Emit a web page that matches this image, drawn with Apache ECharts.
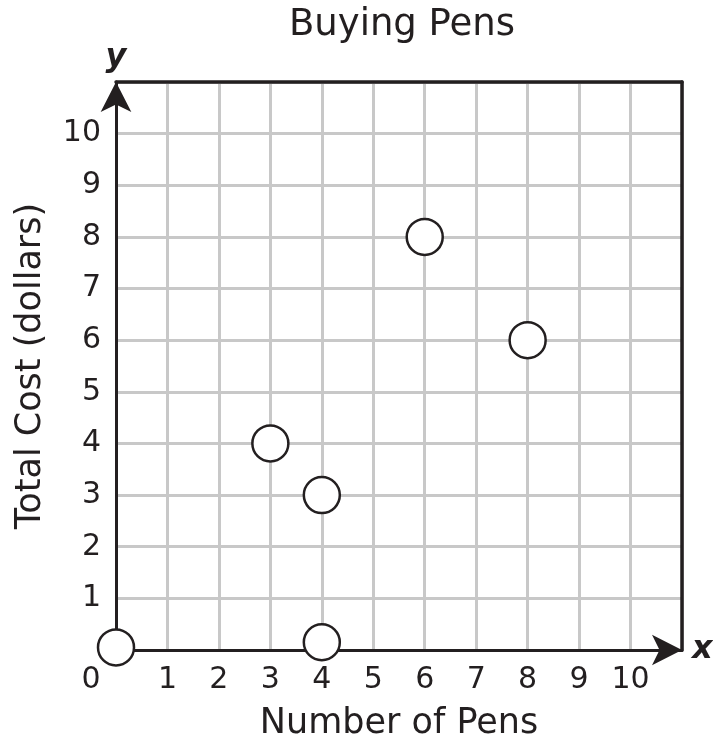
<!DOCTYPE html>
<html><head><meta charset="utf-8">
<script src="https://cdn.jsdelivr.net/npm/echarts@6/dist/echarts.min.js"></script>
<style>html,body{margin:0;padding:0;background:#fff}#c{width:713px;height:741px}</style>
</head><body><div id="c"></div>
<script>
var title = 'Buying Pens';
var xName = 'Number of Pens';
var yName = 'Total Cost (dollars)';
var penCounts = [0, 4, 3, 4, 6, 8];
var totalCosts = [0.05, 0.15, 4, 3, 8, 6];
var tickValues = [0, 1, 2, 3, 4, 5, 6, 7, 8, 9, 10];

var F = 'DejaVu Sans, Verdana, sans-serif';
var ink = '#231f20';
var chart = echarts.init(document.getElementById('c'));
var pts = penCounts.map(function (x, i) { return [x, totalCosts[i]]; });
function lbl(v, hideZero) {
  if (tickValues.indexOf(v) < 0) return '';
  if (v === 0) return hideZero ? '' : '{z|0}';
  return String(v);
}
var blank = { axisTick: { show: false }, axisLabel: { show: false }, splitLine: { show: false } };
function extra(o) { return Object.assign({ type: 'value', min: 0, max: 11 }, blank, o); }
chart.setOption({
  animation: false,
  title: { text: title, left: 397, top: 2, textAlign: 'center',
    textStyle: { fontFamily: F, fontSize: 37, fontWeight: 'normal', color: ink } },
  grid: { left: 116, right: 31, top: 82, bottom: 91, show: false, containLabel: false, outerBoundsMode: 'none' },
  xAxis: [{
    type: 'value', min: 0, max: 11, interval: 1,
    name: xName, nameLocation: 'middle', nameGap: 56,
    nameTextStyle: { fontFamily: F, fontSize: 35, color: ink },
    axisLine: { show: true, onZero: false, symbol: ['none', 'arrow'], symbolSize: [23, 30], lineStyle: { color: ink, width: 3 } },
    axisTick: { show: false },
    axisLabel: { margin: 15, fontFamily: F, fontSize: 30, color: ink,
      formatter: function (v) { return lbl(v, false); },
      rich: { z: { fontFamily: F, fontSize: 30, color: ink, padding: [0, 50, 0, 0] } } },
    splitLine: { show: true, lineStyle: { color: '#c8c8c8', width: 3 } },
    z: 3
  }, extra({
    position: 'bottom',
    name: 'x', nameLocation: 'end', nameGap: 10,
    nameTextStyle: { fontFamily: F, fontSize: 32, fontWeight: 'bold', fontStyle: 'italic', color: ink, verticalAlign: 'middle', padding: [52, 0, 0, 0] },
    axisLine: { show: false, onZero: false }
  }), extra({
    position: 'top',
    axisLine: { show: true, onZero: false, lineStyle: { color: ink, width: 3.5 } },
    z: 4
  })],
  yAxis: [{
    type: 'value', min: 0, max: 11, interval: 1,
    name: yName, nameLocation: 'middle', nameGap: 68,
    nameTextStyle: { fontFamily: F, fontSize: 35, color: ink },
    axisLine: { show: true, onZero: false, symbol: ['none', 'arrow'], symbolSize: [23, 30], lineStyle: { color: ink, width: 3 } },
    axisTick: { show: false },
    axisLabel: { margin: 15, fontFamily: F, fontSize: 30, color: ink,
      formatter: function (v) { return lbl(v, true); } },
    splitLine: { show: true, lineStyle: { color: '#c8c8c8', width: 3 } },
    z: 3
  }, extra({
    position: 'left',
    name: 'y', nameLocation: 'end', nameGap: 8,
    nameTextStyle: { fontFamily: F, fontSize: 32, fontWeight: 'bold', fontStyle: 'italic', color: ink, align: 'center' },
    axisLine: { show: false, onZero: false }
  }), extra({
    position: 'right',
    axisLine: { show: true, onZero: false, lineStyle: { color: ink, width: 3.5 } },
    z: 4
  })],
  series: [{
    type: 'scatter', data: pts, symbol: 'circle', symbolSize: 36,
    itemStyle: { color: '#fff', borderColor: ink, borderWidth: 2.5, opacity: 1 },
    z: 10
  }]
});
</script></body></html>
